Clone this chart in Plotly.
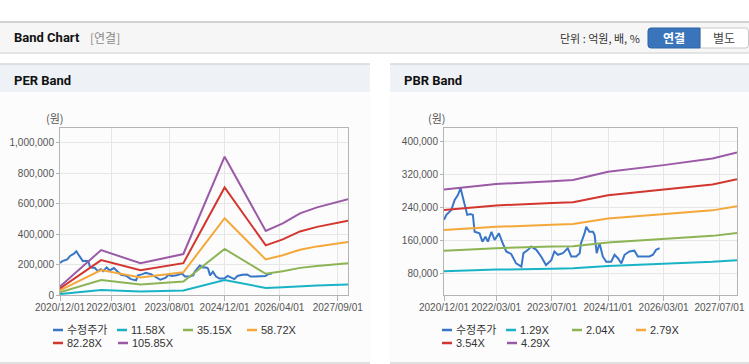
import plotly.graph_objects as go

W, H = 749, 364


def px(x):
    return x / W


def py(y):
    return 1 - y / H


# ---------------- data ----------------
series_names_per = ["수정주가", "11.58X", "35.15X", "58.72X", "82.28X", "105.85X"]
series_names_pbr = ["수정주가", "1.29X", "2.04X", "2.79X", "3.54X", "4.29X"]
series_colors = ["#3a76c8", "#1ab3c6", "#8cb454", "#f4a83a", "#d3362e", "#9b5aa6"]

price_dates = [
    "2020-12-01", "2020-12-22", "2021-02-03", "2021-03-03", "2021-04-01", "2021-04-25",
    "2021-05-13", "2021-06-07", "2021-06-22", "2021-07-19", "2021-08-10", "2021-08-25",
    "2021-10-07", "2021-11-01", "2021-11-28", "2021-12-19", "2022-01-19", "2022-02-15",
    "2022-03-25", "2022-04-28", "2022-05-28", "2022-07-10", "2022-08-22", "2022-10-07",
    "2022-10-25", "2022-12-04", "2023-01-01", "2023-02-15", "2023-03-28", "2023-05-10",
    "2023-06-25", "2023-07-22", "2023-08-22", "2023-10-04", "2023-11-16", "2023-12-16",
    "2024-01-28", "2024-02-28", "2024-03-10", "2024-04-10", "2024-04-25", "2024-05-22",
    "2024-06-22", "2024-07-07", "2024-07-25", "2024-08-19", "2024-09-16", "2024-10-16",
    "2024-11-28", "2024-12-28", "2025-01-28", "2025-02-25", "2025-03-25", "2025-05-07",
    "2025-06-19", "2025-07-19", "2025-09-01", "2025-10-28", "2025-11-28", "2025-12-25",
    "2026-01-25",
]
price_values = [
    210000, 222000, 234000, 258000, 270000, 287000,
    266000, 242000, 222000, 224000, 222000, 181000,
    177000, 157000, 169000, 157000, 181000, 161000,
    177000, 153000, 133000, 127000, 104000, 96000,
    129000, 137000, 145000, 137000, 121000, 100000,
    112000, 133000, 125000, 129000, 141000, 121000,
    121000, 129000, 153000, 177000, 193000, 181000,
    181000, 173000, 129000, 153000, 121000, 108000,
    108000, 125000, 116000, 104000, 125000, 133000,
    135000, 121000, 121000, 121000, 125000, 137000,
    141000,
]

per_dates = ["2020-12-01", "2021-12-01", "2022-11-15", "2023-12-01", "2024-12-01",
             "2025-12-01", "2026-05-01", "2026-10-01", "2027-03-01", "2027-12-01"]
per_11_58 = [6000, 32000, 23000, 29000, 99000, 46000, 51000, 59000, 63000, 69000]
per_35_15 = [18000, 98000, 69000, 89000, 302000, 139000, 156000, 178000, 191000, 209000]
per_58_72 = [31000, 164000, 115000, 149000, 504000, 233000, 261000, 297000, 319000, 348000]
per_82_28 = [43000, 229000, 162000, 209000, 706000, 326000, 365000, 417000, 447000, 488000]
per_105_85 = [55000, 295000, 208000, 269000, 908000, 420000, 470000, 536000, 575000, 628000]

pbr_dates = ["2020-12-01", "2022-03-01", "2023-07-01", "2024-01-01", "2024-11-01",
             "2026-03-01", "2027-05-01", "2027-12-01"]
pbr_1_29 = [85000, 89000, 91000, 92000, 98000, 103000, 108000, 112000]
pbr_2_04 = [135000, 141000, 145000, 146000, 155000, 163000, 171000, 178000]
pbr_2_79 = [185000, 193000, 198000, 200000, 213000, 223000, 233000, 243000]
pbr_3_54 = [234000, 245000, 251000, 253000, 270000, 283000, 296000, 309000]
pbr_4_29 = [284000, 297000, 304000, 307000, 327000, 343000, 359000, 374000]

per_xtick_vals = ["2020-12-01", "2022-03-01", "2023-08-01", "2024-12-01", "2026-04-01", "2027-09-01"]
per_xtick_text = ["2020/12/01", "2022/03/01", "2023/08/01", "2024/12/01", "2026/04/01", "2027/09/01"]
pbr_xtick_vals = ["2020-12-01", "2022-03-01", "2023-07-01", "2024-11-01", "2026-03-01", "2027-07-01"]
pbr_xtick_text = ["2020/12/01", "2022/03/01", "2023/07/01", "2024/11/01", "2026/03/01", "2027/07/01"]
per_ytick_vals = [0, 200000, 400000, 600000, 800000, 1000000]
pbr_ytick_vals = [80000, 160000, 240000, 320000, 400000]

# ---------------- figure ----------------
TICK_FONT = dict(family="Liberation Sans, Arial, sans-serif", size=10, color="#555555")
TEXT_FONT = "Liberation Sans, Noto Sans CJK KR, sans-serif"
KR_FONT = "Noto Sans CJK KR, Liberation Sans, sans-serif"

fig = go.Figure()

per_series = [per_11_58, per_35_15, per_58_72, per_82_28, per_105_85]
pbr_series = [pbr_1_29, pbr_2_04, pbr_2_79, pbr_3_54, pbr_4_29]

fig.add_trace(go.Scatter(x=price_dates, y=price_values, mode="lines", name=series_names_per[0],
                         line=dict(color=series_colors[0], width=2), xaxis="x", yaxis="y",
                         showlegend=False))
for i, vals in enumerate(per_series):
    fig.add_trace(go.Scatter(x=per_dates, y=vals, mode="lines", name=series_names_per[i + 1],
                             line=dict(color=series_colors[i + 1], width=2), xaxis="x", yaxis="y",
                             showlegend=False))

fig.add_trace(go.Scatter(x=price_dates, y=price_values, mode="lines", name=series_names_pbr[0],
                         line=dict(color=series_colors[0], width=2), xaxis="x2", yaxis="y2",
                         showlegend=False))
for i, vals in enumerate(pbr_series):
    fig.add_trace(go.Scatter(x=pbr_dates, y=vals, mode="lines", name=series_names_pbr[i + 1],
                             line=dict(color=series_colors[i + 1], width=2), xaxis="x2", yaxis="y2",
                             showlegend=False))

axis_common = dict(showgrid=True, gridcolor="#e6e6e6", gridwidth=1, showline=True, linecolor="#b4b4b4",
                   linewidth=1, mirror=True, ticks="outside", tickcolor="#b4b4b4", zeroline=False,
                   tickfont=TICK_FONT, fixedrange=True, automargin=False)

fig.update_layout(
    width=W, height=H, autosize=False,
    margin=dict(l=0, r=0, t=0, b=0, pad=0),
    paper_bgcolor="#ffffff", plot_bgcolor="#ffffff",
    showlegend=False,
    xaxis=dict(axis_common, domain=[px(60), px(348)], type="date",
               range=["2020-12-01", "2027-12-01"], tickvals=per_xtick_vals, ticktext=per_xtick_text,
               ticklen=5, tickangle=0, ticklabelstandoff=-2, anchor="y"),
    yaxis=dict(axis_common, domain=[py(295), py(128)], range=[0, 1096000], tickvals=per_ytick_vals,
               tickformat=",d", ticklen=3, anchor="x"),
    xaxis2=dict(axis_common, domain=[px(444), px(737)], type="date",
                range=["2020-12-01", "2027-12-01"], tickvals=pbr_xtick_vals, ticktext=pbr_xtick_text,
                ticklen=5, tickangle=0, ticklabelstandoff=-2, anchor="y2"),
    yaxis2=dict(axis_common, domain=[py(295), py(128)], range=[27200, 433300], tickvals=pbr_ytick_vals,
                tickformat=",d", ticklen=3, anchor="x2"),
)

shapes = []
annotations = []

# header bar
shapes.append(dict(type="rect", xref="paper", yref="paper", x0=0, x1=1, y0=py(52), y1=py(22),
                   fillcolor="#f6f6f6", line=dict(width=0), layer="below"))
shapes.append(dict(type="rect", xref="paper", yref="paper", x0=0, x1=1, y0=py(54), y1=py(52),
                   fillcolor="#e4e4e4", line=dict(width=0), layer="below"))
shapes.append(dict(type="line", xref="paper", yref="paper", x0=0, x1=1, y0=py(22), y1=py(22),
                   line=dict(color="#c4c4c4", width=1.5), layer="below"))

# panels
for (x0, x1) in [(0, 370), (390, 749)]:
    shapes.append(dict(type="rect", xref="paper", yref="paper", x0=px(x0), x1=px(x1), y0=py(363), y1=py(92),
                       fillcolor="#fcfcfc", line=dict(width=0), layer="below"))
    shapes.append(dict(type="rect", xref="paper", yref="paper", x0=px(x0), x1=px(x1), y0=py(92), y1=py(64),
                       fillcolor="#eef1f6", line=dict(width=0), layer="below"))
    shapes.append(dict(type="line", xref="paper", yref="paper", x0=px(x0), x1=px(x1), y0=py(64), y1=py(64),
                       line=dict(color="#d6d6d6", width=1.5), layer="below"))
    shapes.append(dict(type="line", xref="paper", yref="paper", x0=px(x0), x1=px(x1), y0=py(363), y1=py(363),
                       line=dict(color="#d6d6d6", width=1.5), layer="below"))


def rounded_rect(x0, y0, x1, y1, r, left=True, right=True):
    def P(x, y):
        return f"{px(x):.5f},{py(y):.5f}"
    parts = []
    if left:
        parts.append(f"M {P(x0 + r, y0)}")
    else:
        parts.append(f"M {P(x0, y0)}")
    if right:
        parts.append(f"L {P(x1 - r, y0)} Q {P(x1, y0)} {P(x1, y0 + r)} L {P(x1, y1 - r)} Q {P(x1, y1)} {P(x1 - r, y1)}")
    else:
        parts.append(f"L {P(x1, y0)} L {P(x1, y1)}")
    if left:
        parts.append(f"L {P(x0 + r, y1)} Q {P(x0, y1)} {P(x0, y1 - r)} L {P(x0, y0 + r)} Q {P(x0, y0)} {P(x0 + r, y0)} Z")
    else:
        parts.append(f"L {P(x0, y1)} Z")
    return " ".join(parts)


# buttons
shapes.append(dict(type="path", xref="paper", yref="paper", path=rounded_rect(700, 28, 748.5, 48, 3, left=False),
                   fillcolor="#ffffff", line=dict(color="#c8c8c8", width=1)))
shapes.append(dict(type="path", xref="paper", yref="paper", path=rounded_rect(648, 28, 700, 48, 3, right=False),
                   fillcolor="#3a75bb", line=dict(color="#2f64a5", width=1)))

annotations += [
    dict(x=px(12), y=py(38), xref="paper", yref="paper", text="<b>Band Chart</b>", showarrow=False,
         xanchor="left", yanchor="middle", font=dict(family="Roboto, Liberation Sans, sans-serif", size=13, color="#111111")),
    dict(x=px(88), y=py(38), xref="paper", yref="paper", text="[연결]", showarrow=False,
         xanchor="left", yanchor="middle", font=dict(family=KR_FONT, size=12, color="#8a8a8a")),
    dict(x=px(642), y=py(38), xref="paper", yref="paper", text="단위 : 억원, 배, %", showarrow=False,
         xanchor="right", yanchor="middle", font=dict(family=KR_FONT, size=11, color="#333333")),
    dict(x=px(674), y=py(38), xref="paper", yref="paper", text="<b>연결</b>", showarrow=False,
         xanchor="center", yanchor="middle", font=dict(family=KR_FONT, size=12, color="#ffffff")),
    dict(x=px(724), y=py(38), xref="paper", yref="paper", text="별도", showarrow=False,
         xanchor="center", yanchor="middle", font=dict(family=KR_FONT, size=12, color="#444444")),
    dict(x=px(12), y=py(80), xref="paper", yref="paper", text="<b>PER Band</b>", showarrow=False,
         xanchor="left", yanchor="middle", font=dict(family="Roboto, Liberation Sans, sans-serif", size=13, color="#111111")),
    dict(x=px(402), y=py(80), xref="paper", yref="paper", text="<b>PBR Band</b>", showarrow=False,
         xanchor="left", yanchor="middle", font=dict(family="Roboto, Liberation Sans, sans-serif", size=13, color="#111111")),
    dict(x=px(55), y=py(118), xref="paper", yref="paper", text="(원)", showarrow=False,
         xanchor="center", yanchor="middle", font=dict(family=KR_FONT, size=11, color="#555555")),
    dict(x=px(437), y=py(118), xref="paper", yref="paper", text="(원)", showarrow=False,
         xanchor="center", yanchor="middle", font=dict(family=KR_FONT, size=11, color="#555555")),
]

# manual legends
legend_slots = [(0, 330), (64, 330), (130, 330), (194, 330), (0, 343), (65, 343)]
for base_x, names in [(53, series_names_per), (442, series_names_pbr)]:
    for i, name in enumerate(names):
        dx, yy = legend_slots[i]
        x0 = base_x + dx
        shapes.append(dict(type="line", xref="paper", yref="paper", x0=px(x0), x1=px(x0 + 10),
                           y0=py(yy), y1=py(yy), line=dict(color=series_colors[i], width=2.5)))
        annotations.append(dict(x=px(x0 + 12), y=py(yy), xref="paper", yref="paper", text=name,
                                showarrow=False, xanchor="left", yanchor="middle",
                                font=dict(family=TEXT_FONT, size=11, color="#333333")))

fig.update_layout(shapes=shapes, annotations=annotations)

fig.write_html(
    "out.html",
    config={"responsive": False, "displayModeBar": False},
    post_script="document.body.style.margin='0';document.body.style.padding='0';document.body.style.overflow='hidden';",
)
